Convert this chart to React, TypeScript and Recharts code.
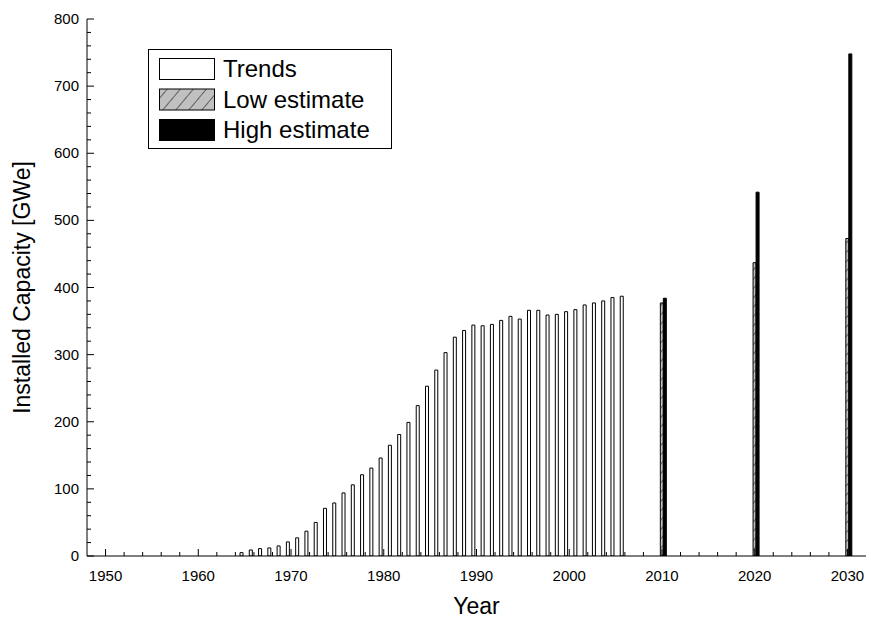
import { BarChart, Bar, XAxis, YAxis, Legend } from 'recharts'

// historical installed capacity (GWe), one bar per year
const trendYears = [
  1965, 1966, 1967, 1968, 1969, 1970, 1971, 1972, 1973, 1974,
  1975, 1976, 1977, 1978, 1979, 1980, 1981, 1982, 1983, 1984,
  1985, 1986, 1987, 1988, 1989, 1990, 1991, 1992, 1993, 1994,
  1995, 1996, 1997, 1998, 1999, 2000, 2001, 2002, 2003, 2004,
  2005, 2006,
]
const trendCapacity = [
  5, 9, 11, 12, 15, 21, 27, 37, 50, 71,
  79, 94, 106, 121, 131, 146, 165, 181, 199, 224,
  253, 277, 303, 326, 336, 344, 343, 345, 351, 357,
  353, 366, 366, 359, 360, 364, 367, 374, 377, 380,
  385, 387,
]

// projections
const scenarioYears = [2010, 2020, 2030]
const lowEstimate = [377, 437, 473]
const highEstimate = [384, 542, 748]

const xLabels = [1950, 1960, 1970, 1980, 1990, 2000, 2010, 2020, 2030]
const yLabels = [0, 100, 200, 300, 400, 500, 600, 700, 800]

// minor ticks every 2 years / every 20 GWe
const xTicks: number[] = []
for (let t = 1950; t <= 2030; t += 2) xTicks.push(t)
const yTicks: number[] = []
for (let t = 0; t <= 800; t += 20) yTicks.push(t)

const data = [
  ...trendYears.map((year, i) => ({ year, trends: trendCapacity[i] })),
  ...scenarioYears.map((year, i) => ({ year, low: lowEstimate[i], high: highEstimate[i] })),
]

const FONT = 'Arial, "Liberation Sans", sans-serif'
const MAJOR = 7
const MINOR = 4

function BottomTick({ x, y, payload }: any) {
  const major = xLabels.includes(payload.value)
  return (
    <g>
      <line x1={x} x2={x} y1={y} y2={y - (major ? MAJOR : MINOR)} stroke="#000" />
      {major && (
        <text x={x} y={y + 25} textAnchor="middle" fontSize={15} fontFamily={FONT} fill="#000">
          {payload.value}
        </text>
      )}
    </g>
  )
}

function TopTick({ x, y, payload }: any) {
  const major = xLabels.includes(payload.value)
  return <line x1={x} x2={x} y1={y} y2={y + (major ? MAJOR : MINOR)} stroke="#000" />
}

function LeftTick({ x, y, payload }: any) {
  const major = yLabels.includes(payload.value)
  return (
    <g>
      <line x1={x} x2={x + (major ? MAJOR : MINOR)} y1={y} y2={y} stroke="#000" />
      {major && (
        <text x={x - 8} y={y + 5} textAnchor="end" fontSize={15} fontFamily={FONT} fill="#000">
          {payload.value}
        </text>
      )}
    </g>
  )
}

function RightTick({ x, y, payload }: any) {
  const major = yLabels.includes(payload.value)
  return <line x1={x} x2={x - (major ? MAJOR : MINOR)} y1={y} y2={y} stroke="#000" />
}

const legendOrder = ['trends', 'low', 'high']
const swatchFill: Record<string, string> = {
  trends: '#fff',
  low: 'url(#hatchLegend)',
  high: '#000',
}

function LegendBox({ payload }: any) {
  const items = [...(payload || [])].sort(
    (a: any, b: any) => legendOrder.indexOf(a.dataKey) - legendOrder.indexOf(b.dataKey),
  )
  return (
    <svg width={244} height={100} style={{ display: 'block' }}>
      <defs>
        <pattern id="hatchLegend" width="10" height="10" patternUnits="userSpaceOnUse" patternTransform="rotate(40)">
          <rect width="10" height="10" fill="#c0c0c0" />
          <line x1="0" y1="0" x2="0" y2="10" stroke="#000" strokeWidth="1" />
        </pattern>
      </defs>
      <rect x={0.5} y={0.5} width={243} height={99} fill="#fff" stroke="#000" />
      {items.map((entry: any, i: number) => (
        <g key={entry.dataKey}>
          <rect x={11.5} y={9.5 + i * 30.5} width={55} height={21} fill={swatchFill[entry.dataKey]} stroke="#000" />
          <text x={75} y={28 + i * 30.5} fontSize={24} fontFamily={FONT} fill="#000">
            {entry.value}
          </text>
        </g>
      ))}
    </svg>
  )
}

export default function App() {
  return (
    <div style={{ position: 'absolute', left: 0, top: 0, background: '#fff' }}>
      <BarChart
        width={871}
        height={621}
        data={data}
        barGap={0}
        margin={{ top: 19, right: 5, bottom: 0, left: 0 }}
      >
        <defs>
          <pattern id="hatch" width="6" height="6" patternUnits="userSpaceOnUse" patternTransform="rotate(40)">
            <rect width="6" height="6" fill="#c0c0c0" />
            <line x1="0" y1="0" x2="0" y2="6" stroke="#000" strokeWidth="1" />
          </pattern>
        </defs>
        <XAxis
          dataKey="year"
          type="number"
          domain={[1948, 2032]}
          allowDataOverflow
          ticks={xTicks}
          interval={0}
          height={65}
          tickSize={0}
          tickMargin={0}
          tickLine={false}
          tick={BottomTick}
          axisLine={{ stroke: '#000' }}
          label={({ viewBox }: any) => (
            <text
              x={viewBox.x + viewBox.width / 2}
              y={viewBox.y + 58}
              textAnchor="middle"
              fontSize={23}
              fontFamily={FONT}
              fill="#000"
            >
              Year
            </text>
          )}
        />
        <XAxis
          xAxisId="top"
          orientation="top"
          dataKey="year"
          type="number"
          domain={[1948, 2032]}
          allowDataOverflow
          ticks={xTicks}
          interval={0}
          height={0}
          tickSize={0}
          tickMargin={0}
          tickLine={false}
          tick={TopTick}
          axisLine={{ stroke: '#000' }}
        />
        <YAxis
          type="number"
          domain={[0, 800]}
          allowDataOverflow
          ticks={yTicks}
          interval={0}
          width={87}
          tickSize={0}
          tickMargin={0}
          tickLine={false}
          tick={LeftTick}
          axisLine={{ stroke: '#000' }}
          label={({ viewBox }: any) => {
            const cx = viewBox.x + 22
            const cy = viewBox.y + viewBox.height / 2
            return (
              <text
                x={cx}
                y={cy}
                transform={`rotate(-90, ${cx}, ${cy})`}
                textAnchor="middle"
                dominantBaseline="central"
                fontSize={23}
                fontFamily={FONT}
                fill="#000"
              >
                Installed Capacity [GWe]
              </text>
            )
          }}
        />
        <YAxis
          yAxisId="right"
          orientation="right"
          type="number"
          domain={[0, 800]}
          allowDataOverflow
          ticks={yTicks}
          interval={0}
          width={0}
          tickSize={0}
          tickMargin={0}
          tickLine={false}
          tick={RightTick}
          axisLine={{ stroke: '#000' }}
        />
        <Legend
          layout="vertical"
          align="center"
          verticalAlign="middle"
          content={LegendBox}
          wrapperStyle={{ left: 148, top: 49, width: 244, height: 100 }}
        />
        <Bar dataKey="trends" name="Trends" fill="#fff" stroke="#000" strokeWidth={1} barSize={3} isAnimationActive={false} />
        <Bar dataKey="low" name="Low estimate" fill="url(#hatch)" stroke="#000" strokeWidth={1} barSize={3} isAnimationActive={false} />
        <Bar dataKey="high" name="High estimate" fill="#000" stroke="#000" strokeWidth={1} barSize={3} isAnimationActive={false} />
      </BarChart>
    </div>
  )
}
